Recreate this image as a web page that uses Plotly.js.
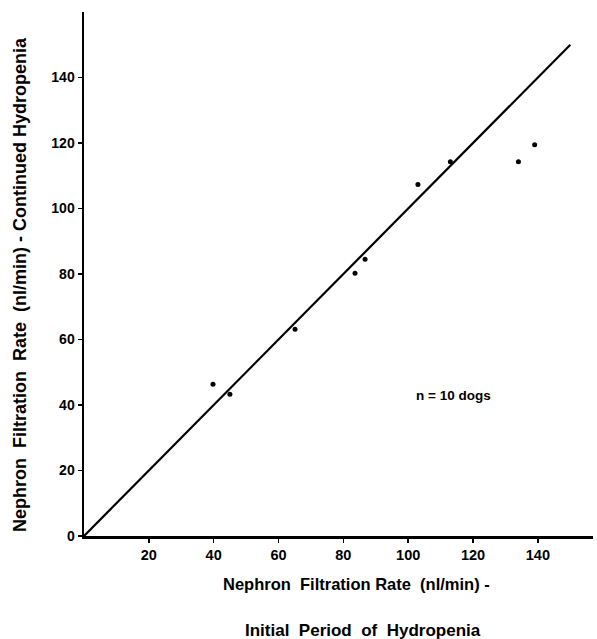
<!DOCTYPE html>
<html>
<head>
<meta charset="utf-8">
<script src="https://cdn.plot.ly/plotly-3.0.1.min.js"></script>
<style>html,body{margin:0;padding:0;background:#fff;}#chart{width:597px;height:639px;}</style>
</head>
<body>
<div id="chart"></div>
<script>
// Nephron filtration rate (nl/min): initial period (x) vs continued hydropenia (y)
const initialPeriod = [39.8, 45.0, 65.1, 83.6, 86.7, 103.0, 113.0, 134.0, 139.0];
const continuedHydropenia = [46.3, 43.3, 63.1, 80.2, 84.5, 107.3, 114.3, 114.3, 119.5];
const identityX = [0, 150];
const identityY = [0, 150];
const xTickVals = [20, 40, 60, 80, 100, 120, 140];
const yTickVals = [0, 20, 40, 60, 80, 100, 120, 140];
const xTitle1 = "Nephron  Filtration Rate  (nl/min) -";
const xTitle2 = "Initial  Period  of  Hydropenia";
const yTitle = "Nephron  Filtration  Rate  (nl/min) - Continued Hydropenia";
const noteText = "n = 10 dogs";

const fontFam = "Liberation Sans, Arial, sans-serif";

const traces = [
  {
    x: identityX, y: identityY, mode: "lines", type: "scatter",
    line: {color: "#000", width: 2.2}, hoverinfo: "skip", showlegend: false
  },
  {
    x: initialPeriod, y: continuedHydropenia, mode: "markers", type: "scatter",
    marker: {color: "#000", size: 5}, showlegend: false
  }
];

const layout = {
  width: 597, height: 639,
  margin: {l: 84, r: 4, t: 12, b: 103},
  paper_bgcolor: "#fff", plot_bgcolor: "#fff",
  font: {family: fontFam, color: "#000", size: 13, weight: "bold"},
  showlegend: false,
  xaxis: {
    range: [0, 157], showgrid: false, zeroline: false,
    showline: true, linecolor: "#000", linewidth: 2.5,
    ticks: "outside", ticklen: 4, tickwidth: 1.5, tickcolor: "#000",
    tickvals: xTickVals, ticktext: xTickVals.map(String),
    tickfont: {size: 14.5, family: fontFam, weight: "bold"}
  },
  yaxis: {
    range: [0, 160], showgrid: false, zeroline: false,
    showline: true, linecolor: "#000", linewidth: 2.5,
    ticks: "outside", ticklen: 4, tickwidth: 1.5, tickcolor: "#000",
    tickvals: yTickVals, ticktext: yTickVals.map(String),
    tickfont: {size: 14, family: fontFam, weight: "bold"}
  },
  annotations: [
    {
      text: xTitle1, xref: "paper", yref: "paper",
      x: (356 - 84) / 509, y: 0, yshift: -(584 - 536), xanchor: "center", yanchor: "middle", showarrow: false,
      font: {size: 16.5, family: fontFam, weight: "bold"}
    },
    {
      text: xTitle2, xref: "paper", yref: "paper",
      x: (363 - 84) / 509, y: 0, yshift: -(630 - 536), xanchor: "center", yanchor: "middle", showarrow: false,
      font: {size: 17, family: fontFam, weight: "bold"}
    },
    {
      text: yTitle, xref: "paper", yref: "paper", textangle: -90,
      x: 0, xshift: -(84 - 20), y: (536 - 285) / 524, xanchor: "center", yanchor: "middle", showarrow: false,
      font: {size: 18, family: fontFam, weight: "bold"}
    },
    {
      text: noteText, xref: "x", yref: "y", x: 114, y: 43,
      xanchor: "center", yanchor: "middle", showarrow: false,
      font: {size: 13.5, family: fontFam, weight: "bold"}
    }
  ]
};

Plotly.newPlot("chart", traces, layout, {displayModeBar: false, staticPlot: true});
</script>
</body>
</html>
